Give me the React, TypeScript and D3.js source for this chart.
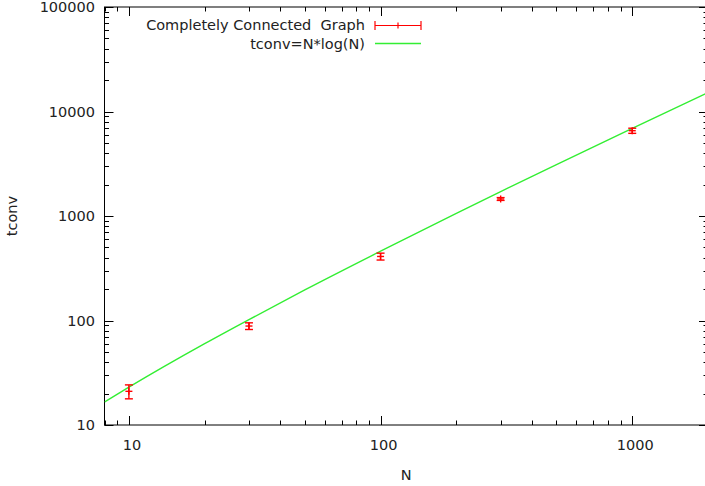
import React, { useEffect, useRef } from 'react';
import * as d3 from 'd3';

// measured points (N, tconv, error)
const sizes = [10, 30, 100, 300, 1000];
const tconv = [21, 88.5, 410, 1455, 6550];
const tconvErr = [3.2, 6.5, 31, 45, 370];

// reference curve tconv = N*log(N)
const fitN = [8, 10, 20, 30, 50, 100, 200, 300, 500, 1000, 2000];
const fitT = [16.6, 23, 60, 102, 196, 460, 1060, 1711, 3107, 6908, 15202];

const yTicks = [10, 100, 1000, 10000, 100000];
const xTicks = [10, 100, 1000];

const W = 705;
const H = 486;

export default function App() {
  const svgRef = useRef<SVGSVGElement>(null);

  useEffect(() => {
    const svg = d3.select(svgRef.current);
    svg.selectAll('*').remove();

    const left = 104.5, right = 708, top = 7, bottom = 425;
    const x = d3.scaleLog().domain([8, 2000]).range([left, right]);
    const y = d3.scaleLog().domain([10, 100000]).range([bottom, top]);

    const font = 'DejaVu Sans, sans-serif';
    const fs = 14.5;
    const g = svg.append('g');

    // minor/major ticks
    const xMinor: number[] = [];
    for (let d = 1; d <= 1000; d *= 10) {
      for (let k = 1; k < 10; k++) {
        const v = k * d;
        if (v >= 8 && v <= 2000) xMinor.push(v);
      }
    }
    const yMinor: number[] = [];
    for (let d = 10; d < 100000; d *= 10) {
      for (let k = 1; k < 10; k++) yMinor.push(k * d);
    }
    yMinor.push(100000);

    xMinor.forEach(v => {
      const len = xTicks.includes(v) ? 9 : 4.5;
      const px = Math.round(x(v)) + 0.5;
      g.append('line').attr('x1', px).attr('x2', px).attr('y1', bottom).attr('y2', bottom - len)
        .attr('stroke', '#000');
      g.append('line').attr('x1', px).attr('x2', px).attr('y1', top).attr('y2', top + len)
        .attr('stroke', '#000');
    });
    yMinor.forEach(v => {
      const len = yTicks.includes(v) ? 9 : 4.5;
      const py = Math.round(y(v)) + 0.5;
      g.append('line').attr('x1', left).attr('x2', left + len).attr('y1', py).attr('y2', py)
        .attr('stroke', '#000');
      g.append('line').attr('x1', right).attr('x2', right - len).attr('y1', py).attr('y2', py)
        .attr('stroke', '#000');
    });

    // border
    g.append('rect').attr('x', left).attr('y', top).attr('width', right - left).attr('height', bottom - top)
      .attr('fill', 'none').attr('stroke', '#000');

    // tick labels
    yTicks.forEach(v => {
      g.append('text').attr('x', 95).attr('y', y(v)).attr('dy', '0.36em')
        .attr('text-anchor', 'end').attr('font-family', font).attr('font-size', fs)
        .attr('fill', '#222').text(String(v));
    });
    xTicks.forEach(v => {
      g.append('text').attr('x', x(v) + 3).attr('y', 445).attr('dy', '0.36em')
        .attr('text-anchor', 'middle').attr('font-family', font).attr('font-size', fs)
        .attr('fill', '#222').text(String(v));
    });

    // axis titles
    g.append('text').attr('x', (left + right) / 2).attr('y', 475).attr('dy', '0.36em')
      .attr('text-anchor', 'middle').attr('font-family', font).attr('font-size', fs)
      .attr('fill', '#222').text('N');
    g.append('text').attr('transform', `translate(12,216) rotate(-90)`).attr('dy', '0.36em')
      .attr('text-anchor', 'middle').attr('font-family', font).attr('font-size', fs)
      .attr('fill', '#222').text('tconv');

    // clip for plot content
    svg.append('clipPath').attr('id', 'plotclip').append('rect')
      .attr('x', left).attr('y', top).attr('width', right - left).attr('height', bottom - top);

    const line = d3.line<number>().x((_, i) => x(fitN[i])).y(d => y(d)).curve(d3.curveMonotoneX);
    svg.append('path').attr('clip-path', 'url(#plotclip)').attr('d', line(fitT))
      .attr('fill', 'none').attr('stroke', '#33ee33').attr('stroke-width', 1.4);

    // error bars
    const eg = svg.append('g').attr('stroke', '#ff0000').attr('stroke-width', 1.4);
    sizes.forEach((n, i) => {
      const px = x(n);
      const y0 = y(tconv[i] - tconvErr[i]);
      const y1 = y(tconv[i] + tconvErr[i]);
      const yc = y(tconv[i]);
      eg.append('line').attr('x1', px).attr('x2', px).attr('y1', y0).attr('y2', y1);
      eg.append('line').attr('x1', px - 4).attr('x2', px + 4).attr('y1', y0).attr('y2', y0);
      eg.append('line').attr('x1', px - 4).attr('x2', px + 4).attr('y1', y1).attr('y2', y1);
      eg.append('line').attr('x1', px - 3.5).attr('x2', px + 3.5).attr('y1', yc).attr('y2', yc);
      eg.append('line').attr('x1', px).attr('x2', px).attr('y1', yc - 3.5).attr('y2', yc + 3.5);
    });

    // legend
    const lg = svg.append('g');
    lg.append('text').attr('x', 365).attr('y', 25).attr('dy', '0.36em').attr('text-anchor', 'end')
      .attr('font-family', font).attr('font-size', fs).attr('fill', '#222')
      .style('white-space', 'pre').text('Completely Connected  Graph');
    lg.append('text').attr('x', 365).attr('y', 43.5).attr('dy', '0.36em').attr('text-anchor', 'end')
      .attr('font-family', font).attr('font-size', fs).attr('fill', '#222').text('tconv=N*log(N)');
    const ly = 25.5;
    lg.append('line').attr('x1', 375).attr('x2', 421).attr('y1', ly).attr('y2', ly)
      .attr('stroke', '#ff0000').attr('stroke-width', 1.2);
    [375, 398, 421].forEach(px => {
      const h = px === 398 ? 3 : 4.5;
      lg.append('line').attr('x1', px).attr('x2', px).attr('y1', ly - h).attr('y2', ly + h)
        .attr('stroke', '#ff0000').attr('stroke-width', 1.2);
    });
    lg.append('line').attr('x1', 375).attr('x2', 421).attr('y1', 43.5).attr('y2', 43.5)
      .attr('stroke', '#33ee33').attr('stroke-width', 1.4);
  }, []);

  return (
    <svg ref={svgRef} width={W} height={H}
      style={{ position: 'absolute', left: 0, top: 0, background: '#fff' }} />
  );
}
